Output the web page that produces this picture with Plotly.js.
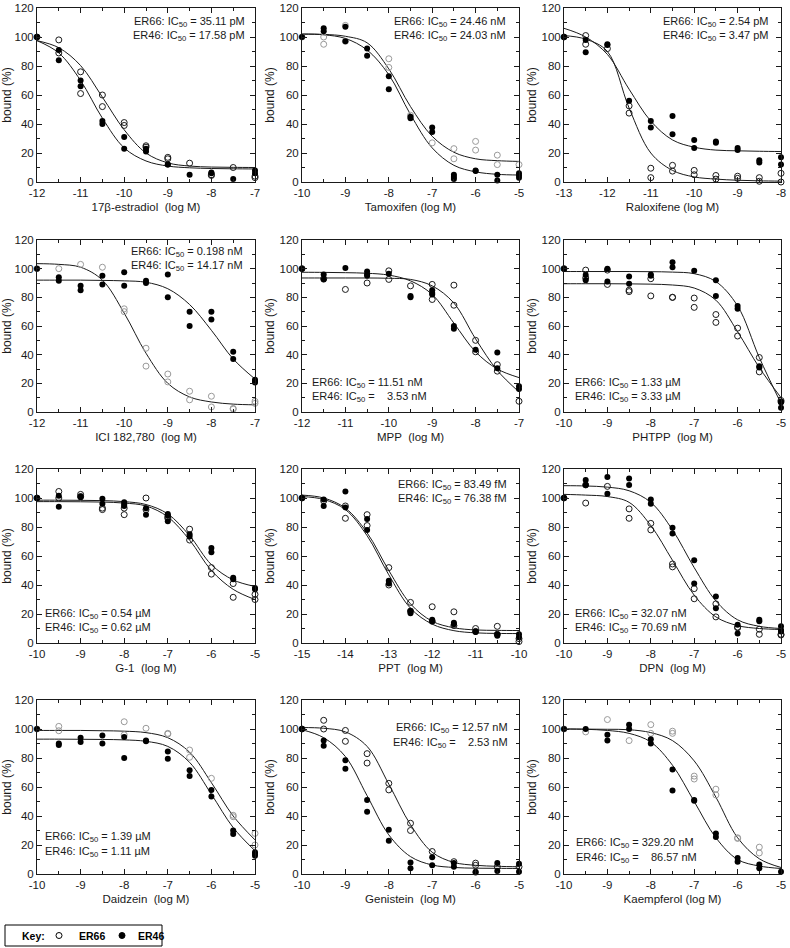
<!DOCTYPE html>
<html><head><meta charset="utf-8">
<script src="https://cdn.plot.ly/plotly-3.0.1.min.js"></script>
<style>html,body{margin:0;padding:0;background:#fff}</style>
</head><body><div id="chart" style="width:790px;height:948px"></div>
<script>
// ---------------- DATA ----------------
const ticks_12_7 = ['-12','-11','-10','-9','-8','-7'];
const ticks_10_5 = ['-10','-9','-8','-7','-6','-5'];
const ticks_13_8 = ['-13','-12','-11','-10','-9','-8'];
const ticks_15_10 = ['-15','-14','-13','-12','-11','-10'];
const yTickLabels = ['0','20','40','60','80','100','120'];

const compounds = ['17β-estradiol\u00a0 (log M)','Tamoxifen (log M)','Raloxifene (log M)','ICI 182,780\u00a0 (log M)','MPP\u00a0 (log M)','PHTPP\u00a0 (log M)','G-1\u00a0 (log M)','PPT\u00a0 (log M)','DPN\u00a0 (log M)','Daidzein\u00a0 (log M)','Genistein\u00a0 (log M)','Kaempferol (log M)'];
const ic50_ER66 = ['35.11 pM','24.46 nM','2.54 pM','0.198 nM','11.51 nM','1.33 µM','0.54 µM','83.49 fM','32.07 nM','1.39 µM','12.57 nM','329.20 nM'];
const ic50_ER46 = ['17.58 pM','24.03 nM','3.47 pM','14.17 nM','\u00a0\u00a0\u00a03.53 nM','3.33 µM','0.62 µM','76.38 fM','70.69 nM','1.11 µM','\u00a0\u00a0\u00a02.53 nM','\u00a0\u00a0\u00a086.57 nM'];
const keyLabels = ['Key:', 'ER66', 'ER46'];

// curve grids (log M)
const grid_12_7 = [-12,-11.5,-11,-10.5,-10,-9.5,-9,-8.5,-8,-7.5,-7];
const grid_10_5 = [-10,-9.5,-9,-8.5,-8,-7.5,-7,-6.5,-6,-5.5,-5];
const grid_13_8 = [-13,-12.5,-12,-11.5,-11,-10.5,-10,-9.5,-9,-8.5,-8];
const grid_15_10 = [-15,-14.5,-14,-13.5,-13,-12.5,-12,-11.5,-11,-10.5,-10];

// 1 17b-estradiol
const e2_x66 = [-12,-11.5,-11.5,-11,-11,-10.5,-10.5,-10,-10,-9.5,-9.5,-9,-9,-8.5,-8,-8,-7.5,-7,-7];
const e2_y66 = [100,98,89,76,61,60,52,41,39,25,24,17,16,13,4.5,5,10,4,3];
const e2_x46 = [-12,-11.5,-11.5,-11,-11,-10.5,-10.5,-10,-10,-9.5,-9.5,-9,-9,-8.5,-8,-8,-7.5,-7,-7];
const e2_y46 = [100,91,84,70,66,42,40,31,23,23,21,12,12,5,6,6.5,2,8,6];
const e2_c66 = [97.5,92.6,80.3,58.5,36,20,13.2,11,10.3,10.1,10];
const e2_c46 = [97.5,89,70,44,23.5,14.5,11,9.8,9.3,9.1,9];

// 2 Tamoxifen
const tam_x66 = [-10,-9.5,-9.5,-9,-9,-8,-8,-7.5,-7,-6.5,-6.5,-6,-6,-5.5,-5.5,-5];
const tam_y66 = [100,100,95,108,97,85,79,46,27,23,16,28,22,18.5,12,12];
const tam_x46 = [-10,-9.5,-9.5,-9,-9,-8.5,-8.5,-8,-8,-7.5,-7.5,-7,-7,-6.5,-6.5,-6.5,-6,-6,-5.5,-5.5,-5,-5,-5];
const tam_y46 = [100,106,104,107,97,92,87,73,64,45,44,37.5,34.5,5,3.5,2,8,7.5,5,1,6,4.5,3];
const tam_c66 = [102,101.8,100.5,96,78,52,31.5,20.5,16,14.7,14.2];
const tam_c46 = [102,101.5,99,91,74,46.5,23.5,11.5,7,5.3,4.8];

// 3 Raloxifene
const ral_x66 = [-13,-12.5,-12.5,-12,-11.5,-11.5,-11,-11,-10.5,-10.5,-10,-10,-9.5,-9.5,-9,-9,-8.5,-8.5,-8,-8];
const ral_y66 = [100,101,95,92,52.5,47.5,9.5,3,11.5,7.5,8,5,4.5,2,4,2.5,3,0.5,6,0];
const ral_x46 = [-13,-12.5,-12.5,-12,-12,-11.5,-11,-11,-10.5,-10.5,-10,-10,-9.5,-9.5,-9,-9,-8.5,-8.5,-8,-8];
const ral_y46 = [100,98,89.5,95,94.5,56,42,37.5,45.5,33,29,23.5,28,27,23.5,22,15,13.5,17,12];
const ral_c66 = [101,98.5,90,51,20,8,3.5,2,1.2,0.8,0.6];
const ral_c46 = [106,100,88,64,42,29,24,22,21.5,21.2,21];

// 4 ICI 182,780
const ici_x66 = [-12,-11.5,-11,-10.5,-10,-10,-9.5,-9.5,-9,-9,-8.5,-8.5,-8,-8,-7.5,-7.5,-7,-7];
const ici_y66 = [100,100,103,101,72,70,44.5,32,26.5,21,14.5,8.5,11,3.5,2.5,2,7.5,6];
const ici_x46 = [-12,-11.5,-11.5,-11,-11,-10.5,-10.5,-10,-10,-9.5,-9.5,-9,-9,-8.5,-8.5,-8,-8,-7.5,-7.5,-7,-7,-7];
const ici_y46 = [100,94,91.5,88,85,95,89,97.5,88,91.5,90,96,80,70,60,70,64.5,42,37,22.5,20.5,21.5];
const ici_c66 = [103.5,103,101,92,69,41,20,10.5,7,5.5,5];
const ici_c46 = [92,92,92,91.8,91.5,90.5,86,75,57,37,23];

// 5 MPP
const mpp_x66 = [-12,-11.5,-11,-10.5,-10,-10,-9.5,-9,-9,-8.5,-8.5,-8,-8,-7.5,-7.5,-7];
const mpp_y66 = [100,93,85.5,90,98.5,92.5,88,89,78.5,88.5,74.5,50,42,33,28.5,7.5];
const mpp_x46 = [-12,-11.5,-11.5,-11,-10.5,-10.5,-10.5,-10,-9.5,-9.5,-9,-9,-9,-8.5,-8.5,-8,-7.5,-7.5,-7,-7];
const mpp_y46 = [100,96,92.5,100.5,98,96,95,96.5,81,80,85,83,82,60,58,43.5,41.5,30.5,18,16];
const mpp_c66 = [93.5,93.5,93.5,93.5,93.3,92.5,88,76,51,29,14];
const mpp_c46 = [97.5,97.4,97.2,96.8,95.5,91.5,82,62,42,30,24];

// 6 PHTPP
const pht_x66 = [-10,-9.5,-9.5,-9,-9,-8.5,-8.5,-8,-8,-7.5,-7.5,-7,-7,-6.5,-6.5,-6,-6,-5.5,-5.5,-5,-5];
const pht_y66 = [100,99,93.5,99,89,85,84,93,81,80,80,79.5,73,68,62.5,58.5,53,38,28,8,7];
const pht_x46 = [-10,-9.5,-9.5,-9,-9,-8.5,-8.5,-8,-8,-7.5,-7.5,-7,-6.5,-6.5,-6,-6,-5.5,-5.5,-5,-5];
const pht_y46 = [100,95.5,92,100,91,94.5,89.5,96,95,104.5,101,98.5,92,81,74,72,32,31,7,3];
const pht_c66 = [89.5,89.5,89.5,89.4,89.2,88.6,86.5,78,56,31,10];
const pht_c46 = [98,98,98,98,97.9,97.6,96.5,91,74,38,6];

// 7 G-1
const g1_x66 = [-10,-9.5,-9.5,-9,-9,-8.5,-8.5,-8,-8,-7.5,-7.5,-7,-7,-6.5,-6.5,-6,-6,-5.5,-5.5,-5,-5];
const g1_y66 = [100,104.5,100,102.5,101,93,92,93,88.5,100,92,87,86,78.5,71,52,47.5,41,31.5,33.5,30];
const g1_x46 = [-10,-9.5,-9.5,-9,-9,-8.5,-8.5,-8,-8,-8,-7.5,-7.5,-7,-7,-7,-6.5,-6.5,-6,-6,-5.5,-5.5,-5,-5];
const g1_y46 = [100,101.5,94,101,100.5,99.5,96,97,95.5,94.5,93,88.5,89,88,84,75,73.5,65.5,62.5,45,44,38,37];
const g1_c66 = [97.5,97.5,97.4,97.2,96.5,94.5,87,71,50,37,30];
const g1_c46 = [98.5,98.5,98.4,98.2,97.5,95.5,89,74,54,43.5,39];

// 8 PPT
const ppt_x66 = [-15,-14.5,-14,-14,-13.5,-13.5,-13,-13,-12.5,-12.5,-12,-12,-11.5,-11.5,-11,-11,-10.5,-10.5,-10,-10];
const ppt_y66 = [100,98,94.5,86,88.5,81,52,40,28,22,25,15,21.5,12,10,8,11.5,6,3,1];
const ppt_x46 = [-15,-14.5,-14.5,-14,-14,-13.5,-13.5,-13,-13,-12.5,-12.5,-12,-12,-11.5,-11.5,-11,-11,-10.5,-10.5,-10,-10];
const ppt_y46 = [100,99,94.5,104.5,93.5,85.5,78,43,41,22,20.5,16,15,14,13,8,7.5,6,5,6,4];
const ppt_c66 = [102,100,93,76,50,27,15,10.5,9,8.7,8.6];
const ppt_c46 = [101,99,92,74,47,24,13,8.5,7,6.6,6.5];

// 9 DPN
const dpn_x66 = [-10,-9.5,-9.5,-9,-8.5,-8.5,-8,-8,-7.5,-7.5,-7,-7,-6.5,-6.5,-6,-6,-5.5,-5.5,-5,-5];
const dpn_y66 = [100,109,96.5,108,92.5,86,82.5,78,54.5,52.5,37.5,30.5,27,18,11,10.5,9.5,6,6,5.5];
const dpn_x46 = [-10,-9.5,-9.5,-9,-9,-8.5,-8.5,-8,-8,-7.5,-7.5,-7,-7,-6.5,-6.5,-6,-6,-5.5,-5.5,-5,-5,-5];
const dpn_y46 = [100,112.5,109,114.5,103,113.5,109,99,96,79.5,75.5,57,41,32,24,12.5,6.5,16,15,11.5,9,8];
const dpn_c66 = [102.5,102,101,97,81,57,33,18,12,10,9.3];
const dpn_c46 = [108.5,108.3,107.5,105,97,78,52,29,16,11.5,10];

// 10 Daidzein
const dai_x66 = [-10,-9.5,-9.5,-8,-8,-7.5,-7,-7,-6.5,-6.5,-6,-5.5,-5.5,-5,-5];
const dai_y66 = [100,101.8,98.8,105,96,100.5,97,96.5,85.5,80.5,66,40.5,39.5,28,20];
const dai_x46 = [-10,-9.5,-9.5,-9,-9,-8.5,-8.5,-8,-8,-7.5,-7.5,-7,-7,-6.5,-6.5,-6,-6,-5.5,-5.5,-5,-5,-5];
const dai_y46 = [100,90,89,94,91,95.5,90,94.5,80,92,91.5,84.5,79.5,71.5,67.5,58,53.5,30,27.5,15,12.5,14];
const dai_c66 = [99,99,99,98.8,98.5,97.5,94,84,63,40,23.5];
const dai_c46 = [93,93,92.9,92.8,92.5,91.5,88,77,55,32,16];

// 11 Genistein
const gen_x66 = [-10,-9.5,-9.5,-9,-9,-8.5,-8.5,-8,-8,-7.5,-7.5,-7,-6.5,-6,-6,-5.5,-5];
const gen_y66 = [100,106,100,99,91.5,83,76.5,62.5,58,35,30,15.5,8.5,7.5,6,5,5];
const gen_x46 = [-10,-9.5,-9.5,-9,-9,-8.5,-8.5,-8,-8,-7.5,-7.5,-7,-7,-6.5,-6.5,-6,-6,-5.5,-5.5,-5,-5];
const gen_y46 = [100,92,88.5,78.5,72.5,51,43,30.5,23,8,4,11.5,6,7.5,5,1.5,1,7.5,2,7,1.5];
const gen_c66 = [101,100.5,98,88,62,34,15,8,6,5.3,5];
const gen_c46 = [99.5,94,81,54,27,12,6.2,4.5,4,3.9,3.8];

// 12 Kaempferol
const kae_x66 = [-10,-9.5,-9,-8.5,-8,-8,-7.5,-7.5,-7,-7,-6.5,-6.5,-6,-6,-5.5,-5.5];
const kae_y66 = [100,98,106.5,92,103,97,98.5,97,67.5,65.5,58.5,54.5,25,24.5,18.5,14.5];
const kae_x46 = [-10,-9.5,-9,-9,-8.5,-8.5,-8,-8,-7.5,-7.5,-7,-7,-6.5,-6.5,-6,-6,-5.5,-5.5,-5];
const kae_y46 = [100,100,96,92,103,100,93,90,72,57.5,51,50.5,28,25.5,11,8.5,6.5,4,1.5];
const kae_c66 = [100,99.9,99.8,99.5,97.5,92,78,53,25,10.5,4.5];
const kae_c46 = [100,99.8,99,97,91,75,50,25,10,5.5,3.8];

// ---------------- LAYOUT / STYLE ----------------
const W = 790, H = 948;
const FONT = 'Liberation Sans, Arial, Helvetica, sans-serif';
const INK = '#1a1a1a';
const GRAY = '#9a9a9a';
const colsPx = [[37,255],[302,519],[564,781]];
const rowsPx = [[8,182],[240,412],[469,643],[700,874]];

const panels = [
  {ticks:ticks_12_7, grid:grid_12_7, x66:e2_x66, y66:e2_y66, x46:e2_x46, y46:e2_y46, c66:e2_c66, c46:e2_c46, oc:INK, ann:{side:'right', x:247, y:[22,36]}},
  {ticks:ticks_10_5, grid:grid_10_5, x66:tam_x66, y66:tam_y66, x46:tam_x46, y46:tam_y46, c66:tam_c66, c46:tam_c46, oc:GRAY, ann:{side:'right', x:508, y:[22,36]}},
  {ticks:ticks_13_8, grid:grid_13_8, x66:ral_x66, y66:ral_y66, x46:ral_x46, y46:ral_y46, c66:ral_c66, c46:ral_c46, oc:INK, ann:{side:'right', x:771, y:[22,36]}},
  {ticks:ticks_12_7, grid:grid_12_7, x66:ici_x66, y66:ici_y66, x46:ici_x46, y46:ici_y46, c66:ici_c66, c46:ici_c46, oc:GRAY, ann:{side:'right', x:245, y:[252,266]}},
  {ticks:ticks_12_7, grid:grid_12_7, x66:mpp_x66, y66:mpp_y66, x46:mpp_x46, y46:mpp_y46, c66:mpp_c66, c46:mpp_c46, oc:INK, ann:{side:'left', x:310, y:[383,397]}},
  {ticks:ticks_10_5, grid:grid_10_5, x66:pht_x66, y66:pht_y66, x46:pht_x46, y46:pht_y46, c66:pht_c66, c46:pht_c46, oc:INK, ann:{side:'left', x:573, y:[383,397]}},
  {ticks:ticks_10_5, grid:grid_10_5, x66:g1_x66, y66:g1_y66, x46:g1_x46, y46:g1_y46, c66:g1_c66, c46:g1_c46, oc:INK, ann:{side:'left', x:43, y:[614,628]}},
  {ticks:ticks_15_10, grid:grid_15_10, x66:ppt_x66, y66:ppt_y66, x46:ppt_x46, y46:ppt_y46, c66:ppt_c66, c46:ppt_c46, oc:INK, ann:{side:'right', x:509, y:[485,499]}},
  {ticks:ticks_10_5, grid:grid_10_5, x66:dpn_x66, y66:dpn_y66, x46:dpn_x46, y46:dpn_y46, c66:dpn_c66, c46:dpn_c46, oc:INK, ann:{side:'left', x:573, y:[614,628]}},
  {ticks:ticks_10_5, grid:grid_10_5, x66:dai_x66, y66:dai_y66, x46:dai_x46, y46:dai_y46, c66:dai_c66, c46:dai_c46, oc:GRAY, ann:{side:'left', x:43, y:[837,852]}},
  {ticks:ticks_10_5, grid:grid_10_5, x66:gen_x66, y66:gen_y66, x46:gen_x46, y46:gen_y46, c66:gen_c66, c46:gen_c46, oc:INK, ann:{side:'right', x:510, y:[728,743]}},
  {ticks:ticks_10_5, grid:grid_10_5, x66:kae_x66, y66:kae_y66, x46:kae_x46, y46:kae_y46, c66:kae_c66, c46:kae_c46, oc:GRAY, ann:{side:'left', x:574, y:[843,858]}}
];

const traces = [];
const layout = {
  width: W, height: H,
  margin: {l:0, r:0, t:0, b:0, autoexpand:false},
  paper_bgcolor:'#fff', plot_bgcolor:'#fff',
  font: {family: FONT, size: 11, color: INK},
  showlegend: false,
  annotations: [],
  shapes: []
};

panels.forEach((p, i) => {
  const n = i + 1;
  const col = i % 3, row = Math.floor(i / 3);
  const xa = 'xaxis' + (n === 1 ? '' : n), ya = 'yaxis' + (n === 1 ? '' : n);
  const xr = 'x' + (n === 1 ? '' : n), yr = 'y' + (n === 1 ? '' : n);
  const tv = p.ticks.map(Number);
  const r0 = tv[0], r1 = tv[tv.length - 1];
  const minorX = [];
  for (let v = r0 + 0.5; v < r1; v += 1) minorX.push(v);
  layout[xa] = {
    domain: [colsPx[col][0]/W, colsPx[col][1]/W], anchor: yr,
    range: [r0, r1], tickmode:'array', tickvals: tv, ticktext: p.ticks,
    showline:true, linecolor:INK, linewidth:1, mirror:'allticks',
    ticks:'inside', ticklen:5, tickwidth:1, tickcolor:INK,
    minor:{tickmode:'array', tickvals:minorX, ticks:'inside', ticklen:3, tickwidth:1, tickcolor:INK, showgrid:false},
    showgrid:false, zeroline:false, fixedrange:true,
    tickfont:{family:FONT, size:11.5, color:INK},
    automargin:true,
    title:{text: compounds[i], font:{family:FONT, size:11.5, color:INK}, standoff:5}
  };
  layout[ya] = {
    domain: [1 - rowsPx[row][1]/H, 1 - rowsPx[row][0]/H], anchor: xr,
    range: [0, 120], tickmode:'array', tickvals: yTickLabels.map(Number), ticktext: yTickLabels,
    showline:true, linecolor:INK, linewidth:1, mirror:'allticks',
    ticks:'inside', ticklen:5, tickwidth:1, tickcolor:INK,
    minor:{tickmode:'array', tickvals:[10,30,50,70,90,110], ticks:'inside', ticklen:3, tickwidth:1, tickcolor:INK, showgrid:false},
    showgrid:false, zeroline:false, fixedrange:true,
    tickfont:{family:FONT, size:11.5, color:INK},
    automargin:true,
    title:{text:'bound (%)', font:{family:FONT, size:12, color:INK}, standoff:2}
  };
  const lineStyle = {color:INK, width:1, shape:'spline', smoothing:1};
  traces.push({x:p.grid, y:p.c66, xaxis:xr, yaxis:yr, mode:'lines', line:lineStyle, hoverinfo:'skip', name:'ER66 fit'});
  traces.push({x:p.grid, y:p.c46, xaxis:xr, yaxis:yr, mode:'lines', line:lineStyle, hoverinfo:'skip', name:'ER46 fit'});
  traces.push({x:p.x66, y:p.y66, xaxis:xr, yaxis:yr, mode:'markers', cliponaxis:false, name:'ER66',
    marker:{symbol:'circle-open', size:6, color:p.oc, line:{width:1, color:p.oc}}});
  traces.push({x:p.x46, y:p.y46, xaxis:xr, yaxis:yr, mode:'markers', cliponaxis:false, name:'ER46',
    marker:{symbol:'circle', size:6, color:'#000'}});
  const a = p.ann;
  const txt = ['ER66: IC<sub>50</sub> = ' + ic50_ER66[i], 'ER46: IC<sub>50</sub> = ' + ic50_ER46[i]];
  txt.forEach((t, k) => {
    layout.annotations.push({
      text: t, xref:'paper', yref:'paper', x: a.x / W, y: 1 - a.y[k] / H,
      xanchor: a.side, yanchor:'middle', showarrow:false, align:a.side,
      font:{family:FONT, size:11, color:INK}
    });
  });
});

// ---- Key box (bottom-left) ----
const px = v => v / W, py = v => 1 - v / H;
const keyMid = 935.5;
layout.shapes.push({type:'rect', xref:'paper', yref:'paper', x0:px(5), x1:px(162), y0:py(946), y1:py(925), line:{color:'#000', width:1}, fillcolor:'#fff'});
layout.shapes.push({type:'circle', xref:'paper', yref:'paper', x0:px(56), x1:px(62), y0:py(keyMid+3), y1:py(keyMid-3), line:{color:'#000', width:1}, fillcolor:'rgba(0,0,0,0)'});
layout.shapes.push({type:'circle', xref:'paper', yref:'paper', x0:px(119), x1:px(125), y0:py(keyMid+3), y1:py(keyMid-3), line:{color:'#000', width:1}, fillcolor:'#000'});
[[keyLabels[0], 20], [keyLabels[1], 77], [keyLabels[2], 136]].forEach(([t, x]) => {
  layout.annotations.push({text:'<b>' + t + '</b>', xref:'paper', yref:'paper', x:px(x), y:py(keyMid),
    xanchor:'left', yanchor:'middle', showarrow:false, font:{family:FONT, size:10.5, color:'#000'}});
});

Plotly.newPlot('chart', traces, layout, {displayModeBar:false, staticPlot:true});
</script></body></html>
